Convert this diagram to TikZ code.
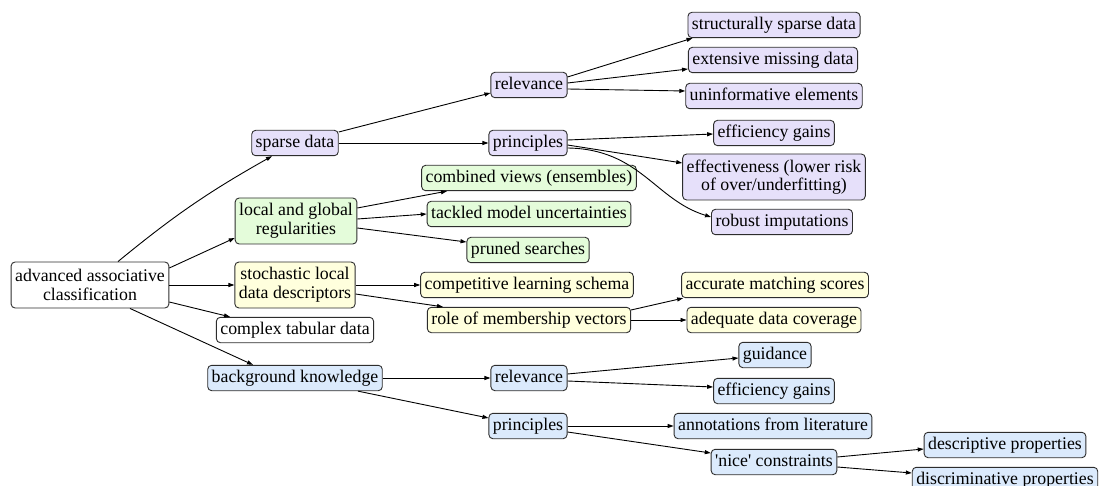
\documentclass[tikz,border=0pt]{standalone}
\usepackage{fontspec}
\setmainfont{Liberation Serif}
\usetikzlibrary{arrows.meta}

\definecolor{lav}{RGB}{230,224,250}
\definecolor{mint}{RGB}{228,252,218}
\definecolor{cream}{RGB}{255,255,221}
\definecolor{sky}{RGB}{219,234,252}
\definecolor{rim}{RGB}{45,45,45}

\tikzset{
  box/.style={draw=rim, line width=0.9pt, rounded corners=4pt, inner xsep=4pt,
    inner ysep=4.2pt, text height=12.6pt, text depth=4.4pt,
    font=\fontsize{17.8}{18.6}\selectfont},
  twoline/.style={box, text height=, text depth=, align=center, minimum height=46pt,
    inner ysep=2pt},
  pbox/.style={box, fill=lav},
  gbox/.style={box, fill=mint},
  ybox/.style={box, fill=cream},
  bbox/.style={box, fill=sky},
  wbox/.style={box, fill=white},
  link/.style={line width=0.9pt, -{Triangle[length=6pt,width=4pt]}},
}

\begin{document}
\begin{tikzpicture}[x=1pt, y=-1pt]
\useasboundingbox (0,0) rectangle (1100,486);

% root
\node[twoline, fill=white] (root) at (90,285) {advanced associative\\classification};

% sparse data branch
\node[pbox] (sd)    at (295,143) {sparse data};
\node[pbox] (sdrel) at (529,85)  {relevance};
\node[pbox] (sdpri) at (528,143) {principles};
\node[pbox] (ssd)   at (774,25)  {structurally sparse data};
\node[pbox] (emd)   at (773,60)  {extensive missing data};
\node[pbox] (uel)   at (774,96)  {uninformative elements};
\node[pbox] (sdeff) at (774,133) {efficiency gains};
\node[twoline, fill=lav] (effv) at (774,177) {effectiveness (lower risk\\of over/underfitting)};
\node[pbox] (rob)   at (782,222) {robust imputations};

% local and global regularities branch
\node[twoline, fill=mint] (lgr) at (296,221) {local and global\\regularities};
\node[gbox] (cv)  at (529,178) {combined views (ensembles)};
\node[gbox] (tmu) at (529,214) {tackled model uncertainties};
\node[gbox] (ps)  at (528,250) {pruned searches};

% stochastic descriptors branch
\node[twoline, fill=cream] (sld) at (295,285) {stochastic local\\data descriptors};
\node[ybox] (cls) at (527,285) {competitive learning schema};
\node[ybox] (rmv) at (529,320) {role of membership vectors};
\node[ybox] (ams) at (775,285) {accurate matching scores};
\node[ybox] (adc) at (774,320) {adequate data coverage};

% tabular data
\node[wbox] (ctd) at (295,330) {complex tabular data};

% background knowledge branch
\node[bbox] (bk)    at (295,378)  {background knowledge};
\node[bbox] (bkrel) at (529,378)  {relevance};
\node[bbox] (bkpri) at (528,426)  {principles};
\node[bbox] (gd)    at (775,355)  {guidance};
\node[bbox] (bkeff) at (774,391)  {efficiency gains};
\node[bbox] (afl)   at (773,426)  {annotations from literature};
\node[bbox] (nc)    at (774,462)  {\textquotesingle nice\textquotesingle{} constraints};
\node[bbox] (dp)    at (1005,445) {descriptive properties};
\node[bbox] (disp)  at (1005,480) {discriminative properties};

% connectors from the root
\draw[link] ([xshift=28pt]root.north) to[bend left=5] ([xshift=-23pt]sd.south);
\draw[link] ([yshift=17pt]root.east) -- ([yshift=-17pt]lgr.west);
\draw[link] (root.east) -- (sld.west);
\draw[link] ([yshift=-17pt]root.east) -- ([xshift=-65pt]ctd.north);
\draw[link] ([xshift=40pt]root.south) -- ([xshift=-42pt]bk.north);

% sparse data
\draw[link] ([yshift=11pt]sd.east) -- ([yshift=-8pt]sdrel.west);
\draw[link] (sd.east) -- (sdpri.west);
\draw[link] ([yshift=8pt]sdrel.east) -- ([xshift=5pt]ssd.south west);
\draw[link] ([yshift=2pt]sdrel.east) -- ([yshift=-9pt]emd.west);
\draw[link] ([yshift=-4pt]sdrel.east) -- ([yshift=5pt]uel.west);
\draw[link] ([yshift=3pt]sdpri.east) -- ([yshift=-1pt]sdeff.west);
\draw[link] ([yshift=-2pt]sdpri.east) -- ([yshift=14pt]effv.west);
\draw[link] ([yshift=-5pt]sdpri.east) .. controls (640,149) and (655,200) .. ([yshift=5pt]rob.west);

% regularities
\draw[link] ([yshift=13pt]lgr.east) -- ([xshift=-82pt]cv.south);
\draw[link] ([yshift=2pt]lgr.east) -- (tmu.west);
\draw[link] ([yshift=-7pt]lgr.east) -- ([yshift=8pt]ps.west);

% stochastic descriptors
\draw[link] (sld.east) -- (cls.west);
\draw[link] ([yshift=-9pt]sld.east) -- ([xshift=-86pt]rmv.north);
\draw[link] ([yshift=10pt]rmv.east) -- ([xshift=2pt]ams.south west);
\draw[link] (rmv.east) -- (adc.west);

% background knowledge
\draw[link] (bk.east) -- (bkrel.west);
\draw[link] ([xshift=63pt]bk.south) -- ([yshift=8pt]bkpri.west);
\draw[link] ([yshift=4pt]bkrel.east) -- ([yshift=-3pt]gd.west);
\draw[link] ([yshift=-3pt]bkrel.east) -- ([yshift=4pt]bkeff.west);
\draw[link] (bkpri.east) -- (afl.west);
\draw[link] ([yshift=-6pt]bkpri.east) -- ([yshift=9pt]nc.west);
\draw[link] ([yshift=5pt]nc.east) -- ([yshift=-4pt]dp.west);
\draw[link] ([yshift=-5pt]nc.east) -- ([yshift=7pt]disp.west);
\end{tikzpicture}
\end{document}
